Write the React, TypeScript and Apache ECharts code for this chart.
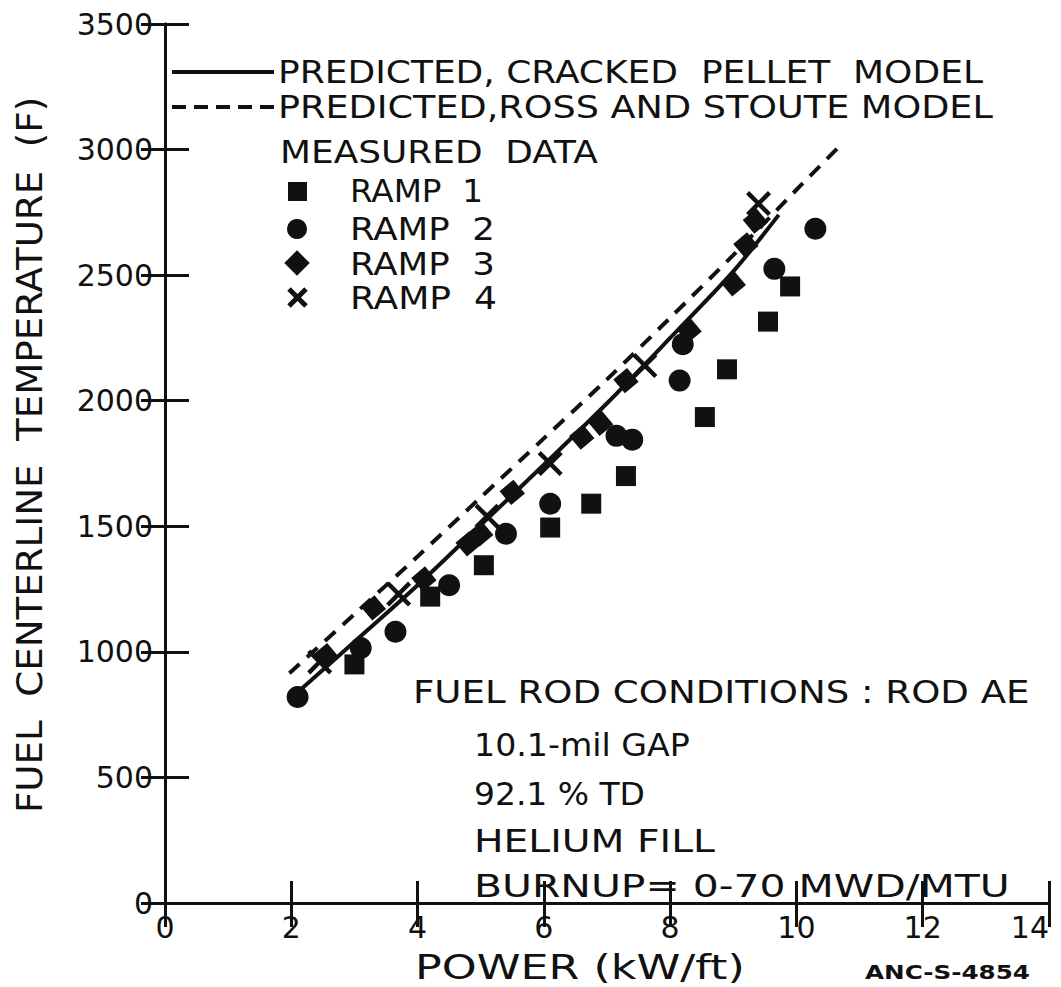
import React, { useEffect, useRef } from "react";
import * as echarts from "echarts";

// Measured fuel centerline temperatures, [power kW/ft, temperature F]
const ramp1: number[][] = [
  [3.0, 950], [4.2, 1220], [5.05, 1345], [6.1, 1495], [6.75, 1590],
  [7.3, 1700], [8.55, 1935], [8.9, 2125], [9.55, 2315], [9.9, 2455],
];
const ramp2: number[][] = [
  [2.1, 820], [3.1, 1015], [3.65, 1080], [4.5, 1265], [5.4, 1470],
  [6.1, 1590], [7.15, 1860], [7.4, 1845], [8.15, 2080], [8.2, 2225],
  [9.65, 2525], [10.3, 2685],
];
const ramp3: number[][] = [
  [2.55, 985], [3.3, 1175], [4.1, 1290], [4.8, 1430], [5.0, 1470],
  [5.5, 1635], [6.6, 1855], [6.9, 1910], [7.3, 2080], [8.3, 2280],
  [9.0, 2465], [9.2, 2620], [9.35, 2715],
];
const ramp4: number[][] = [
  [2.45, 960], [3.7, 1230], [5.1, 1540], [6.1, 1750], [7.6, 2140], [9.4, 2785],
];

// Model predictions
const crackedPellet: number[][] = [
  [2.15, 850], [3, 1040], [4, 1265], [5, 1505], [6, 1745],
  [7, 1990], [8, 2250], [9, 2515], [9.72, 2740],
];
const rossStoute: number[][] = [
  [1.97, 915], [3, 1150], [4, 1380], [5, 1615], [6, 1850],
  [7, 2085], [8, 2330], [9, 2580], [10, 2840], [10.75, 3030],
];

const conditionLines = [
  "10.1-mil GAP",
  "92.1 % TD",
  "HELIUM FILL",
  "BURNUP= 0-70 MWD/MTU",
];

const FONT = "DejaVu Sans";
const INK = "#111";
const CROSS =
  "path://M3,0 L12,9 L21,0 L24,3 L15,12 L24,21 L21,24 L12,15 L3,24 L0,21 L9,12 L0,3 Z";

// Horizontal stretch that makes a string span a given width in the given font.
function stretchFor(text: string, font: string, width: number): number {
  const ctx = document.createElement("canvas").getContext("2d");
  if (!ctx) return 1;
  ctx.font = font;
  const w = ctx.measureText(text).width;
  return w > 0 ? width / w : 1;
}

export default function App() {
  const ref = useRef<HTMLDivElement>(null);

  useEffect(() => {
    if (!ref.current) return;
    const chart = echarts.init(ref.current, undefined, { renderer: "svg" });

    const tick = (length: number) => ({
      show: true,
      inside: true,
      length,
      lineStyle: { color: INK, width: 3 },
    });
    const axisLine = () => ({ show: true, lineStyle: { color: INK, width: 3 } });

    const label = (
      x: number,
      y: number,
      text: string,
      width: number,
      size = 32,
      extra: Record<string, unknown> = {},
      weight = "normal",
    ) => {
      const font = `${weight} ${size}px "${FONT}"`;
      return {
        type: "text",
        x,
        y,
        scaleX: stretchFor(text, font, width),
        ...extra,
        style: { text, fill: INK, font, textVerticalAlign: "middle" },
      };
    };

    const conditionWidths = [216, 171, 241, 536];
    const conditionRows = [745, 794, 841, 886];

    chart.setOption({
      animation: false,
      backgroundColor: "#fff",
      grid: {
        left: 165,
        right: 12,
        top: 24,
        bottom: 84,
        containLabel: false,
        outerBoundsMode: "none",
      },
      xAxis: [
        {
          type: "value",
          min: 0,
          max: 14,
          interval: 2,
          axisLine: axisLine(),
          axisTick: tick(22),
          axisLabel: {
            fontFamily: FONT,
            fontSize: 30,
            color: INK,
            margin: 9,
            alignMaxLabel: "right",
            formatter: (v: number) => String(v),
          },
          splitLine: { show: false },
        },
        {
          type: "value",
          position: "top",
          min: 0,
          max: 14,
          interval: 2,
          axisLine: axisLine(),
          axisTick: tick(24),
          axisLabel: { show: false },
          splitLine: { show: false },
        },
      ],
      yAxis: [
        {
          type: "value",
          min: 0,
          max: 3500,
          interval: 500,
          axisLine: axisLine(),
          axisTick: tick(24),
          axisLabel: {
            fontFamily: FONT,
            fontSize: 30,
            color: INK,
            margin: 12,
            formatter: (v: number) => String(v),
          },
          splitLine: { show: false },
        },
        {
          type: "value",
          position: "right",
          min: 0,
          max: 3500,
          interval: 500,
          axisLine: axisLine(),
          axisTick: tick(24),
          axisLabel: { show: false },
          splitLine: { show: false },
        },
      ],
      series: [
        {
          name: "PREDICTED, CRACKED PELLET MODEL",
          type: "line",
          data: crackedPellet,
          smooth: 0.3,
          showSymbol: false,
          lineStyle: { color: INK, width: 4 },
          z: 2,
        },
        {
          name: "PREDICTED, ROSS AND STOUTE MODEL",
          type: "line",
          data: rossStoute,
          smooth: 0.3,
          showSymbol: false,
          lineStyle: { color: INK, width: 4, type: [14, 10] },
          z: 2,
        },
        {
          name: "RAMP 1",
          type: "scatter",
          data: ramp1,
          symbol: "rect",
          symbolSize: 20,
          itemStyle: { color: INK, opacity: 1 },
          z: 3,
        },
        {
          name: "RAMP 2",
          type: "scatter",
          data: ramp2,
          symbol: "circle",
          symbolSize: 22,
          itemStyle: { color: INK, opacity: 1 },
          z: 3,
        },
        {
          name: "RAMP 3",
          type: "scatter",
          data: ramp3,
          symbol: "rect",
          symbolSize: 18,
          symbolRotate: 40,
          itemStyle: { color: INK, opacity: 1 },
          z: 3,
        },
        {
          name: "RAMP 4",
          type: "scatter",
          data: ramp4,
          symbol: CROSS,
          symbolSize: 25,
          itemStyle: { color: INK, opacity: 1 },
          z: 3,
        },
      ],
      graphic: [
        // Axis titles
        label(30, 813, "FUEL  CENTERLINE  TEMPERATURE  (F)", 716, 36, {
          rotation: Math.PI / 2,
        }),
        label(415, 967, "POWER (kW/ft)", 330, 34),
        // Key
        { type: "line", shape: { x1: 172, y1: 72, x2: 274, y2: 72 }, style: { stroke: INK, lineWidth: 4 } },
        label(278, 72, "PREDICTED, CRACKED  PELLET  MODEL", 705),
        {
          type: "line",
          shape: { x1: 172, y1: 107, x2: 276, y2: 107 },
          style: { stroke: INK, lineWidth: 4, lineDash: [14, 8] },
        },
        label(278, 107, "PREDICTED,ROSS AND STOUTE MODEL", 715),
        label(280, 152, "MEASURED  DATA", 318),
        { type: "rect", shape: { x: 288, y: 182, width: 19, height: 19 }, style: { fill: INK } },
        label(350, 191, "RAMP  1", 133),
        { type: "circle", shape: { cx: 297, cy: 229, r: 10 }, style: { fill: INK } },
        label(350, 229, "RAMP  2", 145),
        {
          type: "rect",
          x: 297,
          y: 263,
          rotation: Math.PI / 4,
          shape: { x: -9, y: -9, width: 18, height: 18 },
          style: { fill: INK },
        },
        label(350, 264, "RAMP  3", 145),
        { type: "line", shape: { x1: 289, y1: 289, x2: 306, y2: 306 }, style: { stroke: INK, lineWidth: 5 } },
        { type: "line", shape: { x1: 306, y1: 289, x2: 289, y2: 306 }, style: { stroke: INK, lineWidth: 5 } },
        label(350, 298, "RAMP  4", 147),
        // Rod conditions
        label(413, 692, "FUEL ROD CONDITIONS : ROD AE", 617),
        ...conditionLines.map((t, i) => label(474, conditionRows[i], t, conditionWidths[i])),
        label(865, 973, "ANC-S-4854", 165, 19, {}, "bold"),
      ],
    });

    return () => chart.dispose();
  }, []);

  return (
    <div
      ref={ref}
      style={{ position: "fixed", left: 0, top: 0, width: 1061, height: 987, background: "#fff" }}
    />
  );
}
